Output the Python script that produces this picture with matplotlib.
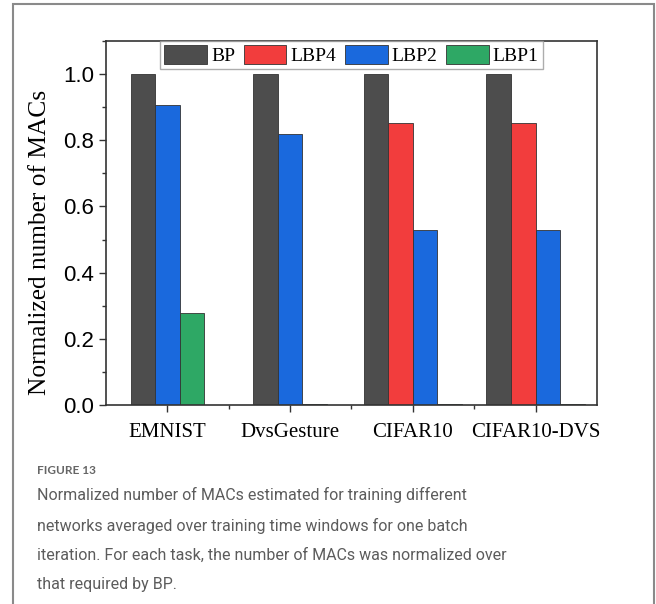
import numpy as np
import matplotlib.pyplot as plt
from matplotlib.patches import Rectangle, Patch
from matplotlib.ticker import MultipleLocator, FixedLocator

tasks = ["EMNIST", "DvsGesture", "CIFAR10", "CIFAR10-DVS"]
methods = ["BP", "LBP4", "LBP2", "LBP1"]
bp = [1.0, 1.0, 1.0, 1.0]
lbp4 = [np.nan, np.nan, 0.852, 0.852]
lbp2 = [0.906, 0.818, 0.53, 0.53]
lbp1 = [0.278, 0.004, 0.003, 0.003]
colors = ["#4d4d4d", "#f23d3d", "#1a69dd", "#2ea865"]

caption_head = "FIGURE 13"
caption = ("Normalized number of MACs estimated for training different\n"
           "networks averaged over training time windows for one batch\n"
           "iteration. For each task, the number of MACs was normalized over\n"
           "that required by BP.")

fig = plt.figure(figsize=(6.56, 6.04), dpi=100)
ax = fig.add_axes([0.1616, 0.3295, 0.9100 - 0.1616, 0.932 - 0.3295])

# outer frame of the figure panel
fig.patches.append(Rectangle((13 / 656, -0.02), (654 - 13) / 656, 1.02 - 4 / 604,
                             transform=fig.transFigure, fill=False,
                             edgecolor="#8a8a8a", lw=1.5))

series = [bp, lbp4, lbp2, lbp1]
width = 0.2
x = np.arange(1, len(tasks) + 1)
for i in range(len(tasks)):
    present = [k for k in range(len(methods)) if not np.isnan(series[k][i])]
    n = len(present)
    for j, k in enumerate(present):
        off = (j - (n - 1) / 2) * width
        ax.bar(x[i] + off, series[k][i], width, color=colors[k],
               edgecolor="#333333", linewidth=0.6)

leg_handles = [Patch(facecolor=c, edgecolor="#333333", linewidth=0.6) for c in colors]
leg = ax.legend(leg_handles, methods, loc="upper center", ncol=4,
                bbox_to_anchor=(0.5, 1.0), borderaxespad=0, frameon=True,
                fancybox=False, edgecolor="#999999", handlelength=2.2,
                handleheight=1.1, handletextpad=0.2, columnspacing=0.45,
                borderpad=0.2,
                prop={"family": "Liberation Serif", "size": 14})
leg.get_frame().set_linewidth(1.0)

ax.set_xlim(0.5, 4.5)
ax.set_ylim(0, 1.1)
ax.set_xticks(x)
ax.set_xticklabels(tasks, fontfamily="Liberation Serif", fontsize=15)
ax.xaxis.set_minor_locator(FixedLocator([1.5, 2.5, 3.5]))
ax.yaxis.set_minor_locator(MultipleLocator(0.1))
ax.set_yticks([0, 0.2, 0.4, 0.6, 0.8, 1.0])
ax.set_yticklabels(["0.0", "0.2", "0.4", "0.6", "0.8", "1.0"],
                   fontfamily="Liberation Sans", fontsize=16)
ax.tick_params(which="major", direction="out", length=5, width=1, color="#333333")
ax.tick_params(which="minor", direction="out", length=3, width=1, color="#333333")
ax.tick_params(axis="x", pad=8)
ax.set_ylabel("Normalized number of MACs", fontfamily="Liberation Serif",
              fontsize=18.3)
ax.yaxis.set_label_coords(-0.113, 0.448)
for s in ax.spines.values():
    s.set_linewidth(1.2)
    s.set_color("#333333")

fig.text(37 / 656, 1 - 471 / 604, caption_head, fontfamily="Lato",
         fontsize=8.5, color="#666666", va="center", fontweight="bold")
fig.text(37 / 656, 1 - 487 / 604, caption, fontfamily="Roboto",
         fontsize=11.5, color="#5c5c5c", va="top", linespacing=2.14)

plt.savefig("out.png", dpi=100)
